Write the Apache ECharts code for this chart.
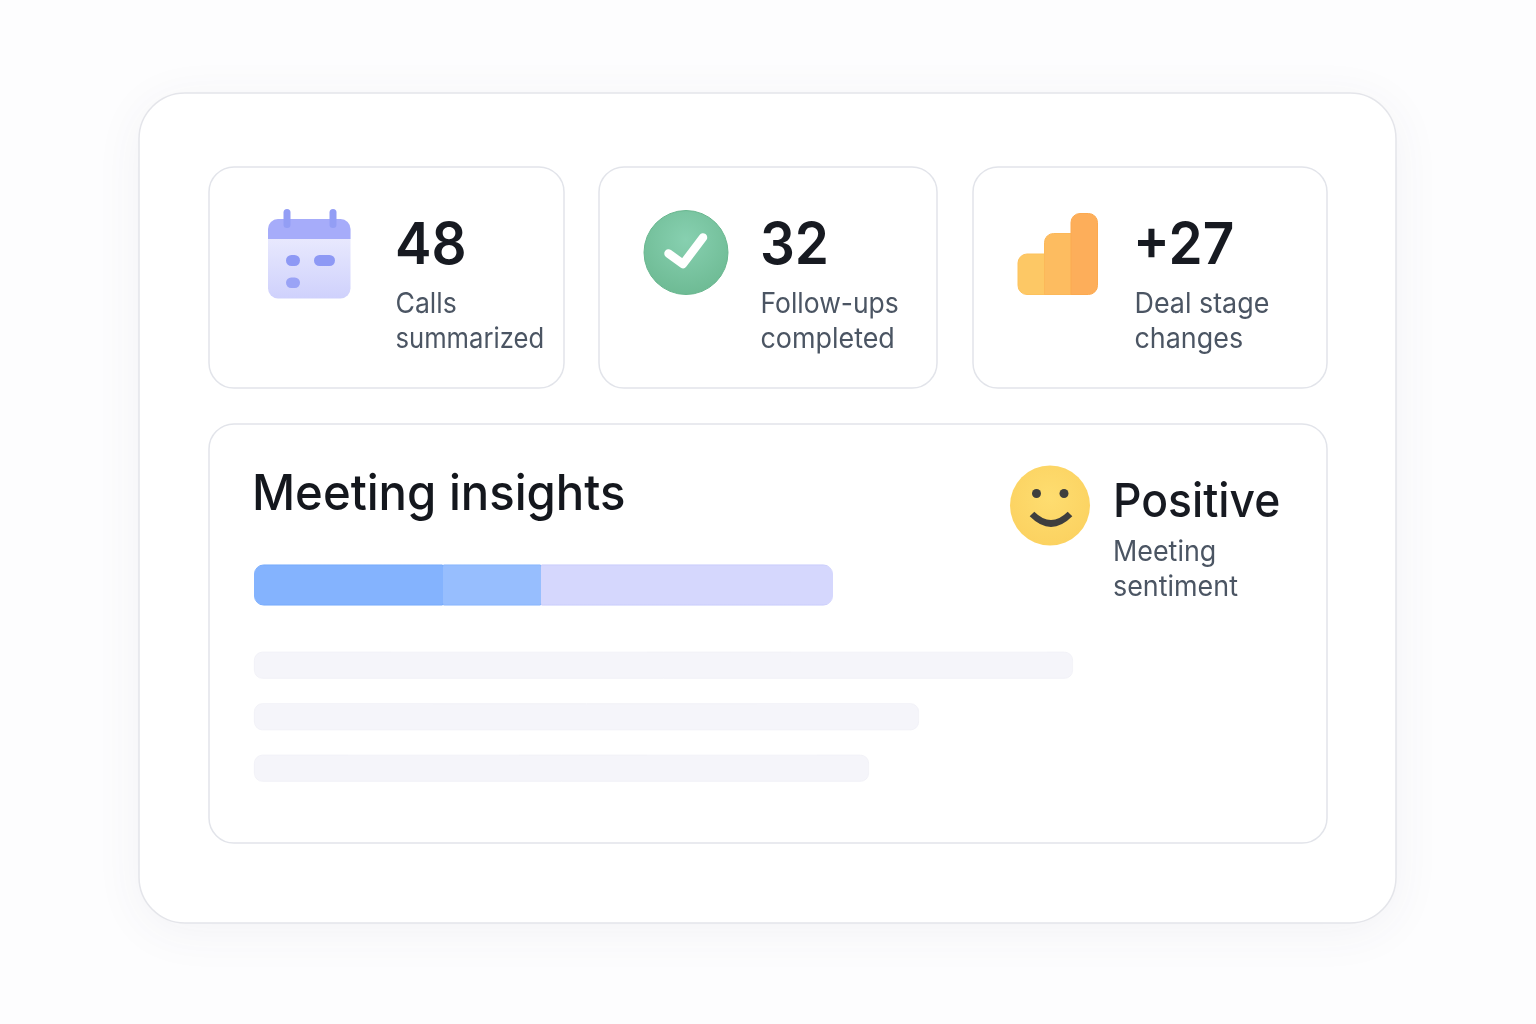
<!DOCTYPE html>
<html>
	<head>
		<meta charset="UTF-8">
		<title>Meeting insights</title>
		<style>
			html,body{margin:0;padding:0;background:#fdfdfe;}
			#main{width:1536px;height:1024px;}
		</style>
	</head>
	<body>
		<div id="main"></div>
	</body>
	<script type="text/javascript" src="https://cdn.jsdelivr.net/npm/echarts@6/dist/echarts.min.js"></script>
	<script>
	var kpiValues=['48','32','+27'];
	var kpiLabels=[['Calls','summarized'],['Follow-ups','completed'],['Deal stage','changes']];
	var panelTitle='Meeting insights';
	var sentimentValue='Positive';
	var sentimentLabel=['Meeting','sentiment'];
	// progress bar segments
	var progressNames=['Done','Partial','Remaining'];
	var progressValues=[189,98,292];
	// placeholder rows
	var rowNames=['Row 1','Row 2','Row 3'];
	var rowValues=[819,665,615];

	var FONT='Inter';
	var myChart=echarts.init(document.getElementById('main'));
	var g=[];

	function card(x,y,w,h,r){
		g.push({type:'rect',z:0,shape:{x:x,y:y,width:w,height:h,r:r},style:{fill:'#fff',stroke:'#e2e4ea',lineWidth:1.5}});
	}
	// sx squeezes the text a bit, the reference font runs narrower than Inter
	function txt(x,y,s,size,weight,color,sx){
		g.push({type:'text',z:5,x:x,y:y,scaleX:sx,style:{text:s,font:weight+' '+size+'px '+FONT,fill:color,verticalAlign:'middle'}});
	}
	function rect(x,y,w,h,r,fill,stroke){
		g.push({type:'rect',z:5,shape:{x:x,y:y,width:w,height:h,r:r},style:{fill:fill,stroke:stroke||null,lineWidth:stroke?1:0}});
	}
	function vgrad(a,b){
		return new echarts.graphic.LinearGradient(0,0,0,1,[{offset:0,color:a},{offset:1,color:b}]);
	}
	// edge colour only on top and bottom, so no line shows between the segments
	function edgeGrad(edge,fill){
		return new echarts.graphic.LinearGradient(0,0,0,1,[
			{offset:0,color:edge},{offset:0.06,color:fill},{offset:0.94,color:fill},{offset:1,color:edge}
		]);
	}

	// outer card with soft shadow
	g.push({type:'rect',z:0,shape:{x:139,y:93,width:1257,height:830,r:46},style:{fill:'#fff',stroke:'#e4e5ea',lineWidth:1.5,shadowBlur:50,shadowColor:'rgba(60,70,110,0.06)',shadowOffsetY:8}});
	card(209,167,355,221,25);
	card(599,167,338,221,25);
	card(973,167,354,221,25);
	card(209,424,1118,419,25);

	// calendar icon
	rect(268,219,82.5,79.5,10,vgrad('#f0f0fe','#cfd1fc'));
	rect(268,219,82.5,20,[10,10,0,0],'#a6acfa');
	rect(283.5,209,7,19,3.5,'#939ef5');
	rect(329.5,209,7,19,3.5,'#939ef5');
	rect(286,255,14,11,5.5,'#8e99f5');
	rect(314,255,21,11,5.5,'#8e99f5');
	rect(286,277.5,14,10.5,5.2,'#9aa3f6');

	// check icon
	g.push({type:'circle',z:5,shape:{cx:686,cy:252.5,r:42},style:{stroke:'#69b78f',lineWidth:1,
		fill:new echarts.graphic.RadialGradient(0.5,0.35,0.7,[{offset:0,color:'#87d0b0'},{offset:1,color:'#6cb992'}])}});
	g.push({type:'polyline',z:6,shape:{points:[[668.5,253.5],[683,264],[703,237.5]]},style:{fill:null,stroke:'#fff',lineWidth:8.5,lineCap:'round',lineJoin:'round'}});

	// bars icon
	rect(1018,254,27,40.5,[9,0,0,9],'#fdc865','#fdc25d');
	rect(1044.5,233.5,27,61,[9,0,0,0],'#fdbc60','#fcb859');
	rect(1071,213.5,26.5,81,[9,9,9,0],'#fdae5a','#fcaa50');

	// smiley
	g.push({type:'circle',z:5,shape:{cx:1050,cy:505.5,r:40},style:{
		fill:new echarts.graphic.RadialGradient(0.5,0.4,0.7,[{offset:0,color:'#fedd70'},{offset:1,color:'#fbd05e'}])}});
	g.push({type:'circle',z:6,shape:{cx:1036.5,cy:493.5,r:4.5},style:{fill:'#3e3e3e'}});
	g.push({type:'circle',z:6,shape:{cx:1064,cy:493.5,r:4.5},style:{fill:'#3e3e3e'}});
	g.push({type:'bezierCurve',z:6,shape:{x1:1032,y1:514,x2:1070,y2:514,cpx1:1051,cpy1:533},style:{fill:null,stroke:'#3e3e3e',lineWidth:6.5}});

	// texts
	var kpiX=[396,761,1135];
	var kpiValueX=[395,760,1133];
	var labelSquash=[[0.95,0.915],[0.945,0.96],[0.96,0.96]];
	for(var i=0;i<3;i++){
		txt(kpiValueX[i],247,kpiValues[i],58,560,'#171a21',0.945);
		txt(kpiX[i]-0.5,305,kpiLabels[i][0],28,400,'#4b5563',labelSquash[i][0]);
		txt(kpiX[i]-0.5,340,kpiLabels[i][1],28,400,'#4b5563',labelSquash[i][1]);
	}
	txt(252,495,panelTitle,50,500,'#14171d',0.945);
	txt(1113,503,sentimentValue,47,500,'#171a21',0.945);
	txt(1113,553,sentimentLabel[0],28,400,'#4b5563',0.96);
	txt(1113,588,sentimentLabel[1],28,400,'#4b5563',0.96);

	var progressColor=['#84b3fe','#97befe','#d5d7fd'];
	var progressBorder=['#6ea6fb','#7fb0fd','#c3c7fb'];
	var progressRadius=[[9,0,0,9],[0,0,0,0],[0,9,9,0]];
	var progressSeries=progressValues.map(function(v,i){
		return {name:progressNames[i],type:'bar',stack:'p',xAxisIndex:0,yAxisIndex:0,barWidth:41,silent:true,
			itemStyle:{color:progressColor[i],borderColor:edgeGrad(progressBorder[i],progressColor[i]),borderWidth:1,borderRadius:progressRadius[i]},
			data:[v]};
	});

	var option={
		animation:false,
		backgroundColor:'#fdfdfe',
		textStyle:{fontFamily:FONT},
		graphic:{elements:g},
		grid:[
			{left:254,top:564,width:579,height:42},
			{left:254,top:639.5,width:820,height:154.5}
		],
		xAxis:[
			{type:'value',gridIndex:0,min:0,max:579,show:false},
			{type:'value',gridIndex:1,min:0,max:820,show:false}
		],
		yAxis:[
			{type:'category',gridIndex:0,data:['Progress'],show:false},
			{type:'category',gridIndex:1,data:rowNames,inverse:true,show:false}
		],
		series:progressSeries.concat([{
			name:'Rows',type:'bar',xAxisIndex:1,yAxisIndex:1,barWidth:27,silent:true,
			itemStyle:{color:'#f5f5fa',borderColor:'#f0f0f6',borderWidth:0.8,borderRadius:8},
			data:rowValues
		}])
	};
	myChart.setOption(option);
	</script>
</html>
